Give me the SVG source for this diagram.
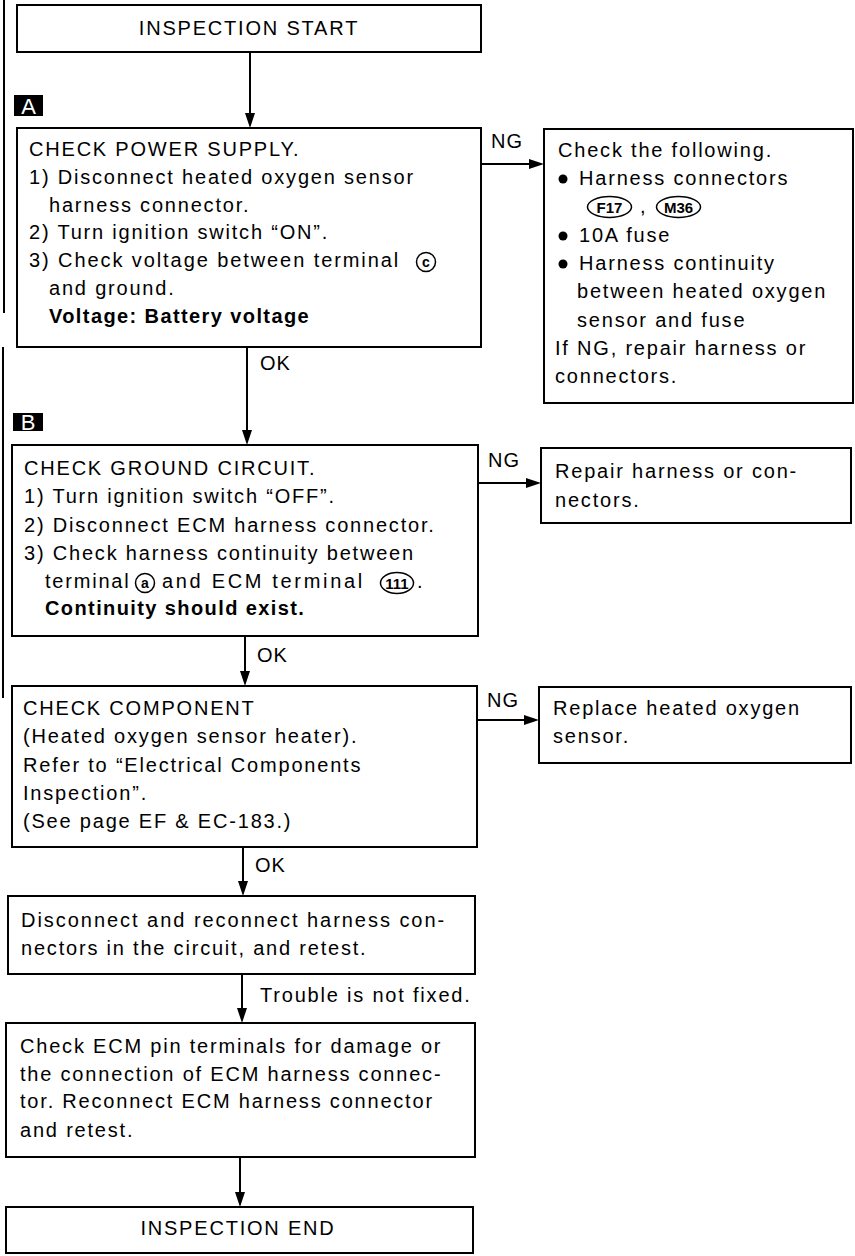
<svg xmlns="http://www.w3.org/2000/svg" width="855" height="1256" viewBox="0 0 855 1256">
<style>
.box{fill:#fff;stroke:#000;stroke-width:2}
.t{font-family:"Liberation Sans",Arial,sans-serif;font-size:20px;letter-spacing:1.8px;fill:#000}
.b{font-weight:bold;letter-spacing:1.4px}
.c{text-anchor:middle}
.lbl{font-family:"Liberation Sans",Arial,sans-serif;font-size:20px;letter-spacing:1px;fill:#000}
.edge{stroke:#000;stroke-width:2;fill:none}
.head{fill:#000}
.mk{fill:#000}
.mkt{font-family:"Liberation Sans",Arial,sans-serif;font-size:22px;fill:#fff;text-anchor:middle}
.circ{fill:none;stroke:#000;stroke-width:1.5}
.ct{font-family:"Liberation Sans",Arial,sans-serif;font-weight:bold;fill:#000;text-anchor:middle}
.ov{font-family:"Liberation Sans Narrow","Liberation Sans",Arial,sans-serif;font-weight:bold;font-size:15px;fill:#000;text-anchor:middle}
.dot{fill:#000}
</style>
<g id="page-border">
<line x1="4" y1="0" x2="4" y2="313" class="edge"/>
<line x1="3" y1="347" x2="3" y2="698" class="edge"/>
</g>
<g id="connectors">
<line x1="250" y1="52" x2="250" y2="114" class="edge"/><polygon class="head" points="245,113 255,113 250,128"/>
<line x1="481" y1="164" x2="530" y2="164" class="edge"/><polygon class="head" points="529,159 529,169 544,164"/>
<text x="491" y="148" class="lbl">NG</text>
<line x1="247" y1="347" x2="247" y2="431" class="edge"/><polygon class="head" points="242,430 252,430 247,445"/>
<text x="260" y="370" class="lbl">OK</text>
<line x1="478" y1="483" x2="527" y2="483" class="edge"/><polygon class="head" points="526,478 526,488 541,483"/>
<text x="488" y="467" class="lbl">NG</text>
<line x1="245" y1="636" x2="245" y2="672" class="edge"/><polygon class="head" points="240,671 250,671 245,686"/>
<text x="257" y="662" class="lbl">OK</text>
<line x1="477" y1="720" x2="525" y2="720" class="edge"/><polygon class="head" points="524,715 524,725 539,720"/>
<text x="487" y="707" class="lbl">NG</text>
<line x1="243" y1="847" x2="243" y2="882" class="edge"/><polygon class="head" points="238,881 248,881 243,896"/>
<text x="255" y="872" class="lbl">OK</text>
<line x1="242" y1="974" x2="242" y2="1009" class="edge"/><polygon class="head" points="237,1008 247,1008 242,1023"/>
<text x="260" y="1002" class="t">Trouble is not fixed.</text>
<line x1="240" y1="1157" x2="240" y2="1193" class="edge"/><polygon class="head" points="235,1192 245,1192 240,1207"/>
</g>
<g id="start">
<rect x="17" y="5" width="464" height="47" class="box"/>
<text x="249" y="35" class="t c">INSPECTION START</text>
</g>
<g id="marker-a">
<rect x="14" y="95" width="29" height="21" class="mk"/>
<text x="28.5" y="114" class="mkt">A</text>
</g>
<g id="check-power">
<rect x="17" y="128" width="464" height="219" class="box"/>
<text x="29" y="156" class="t">CHECK POWER SUPPLY.</text>
<text x="29" y="184" class="t">1) Disconnect heated oxygen sensor</text>
<text x="49" y="212" class="t">harness connector.</text>
<text x="29" y="239" class="t">2) Turn ignition switch “ON”.</text>
<text x="29" y="267" class="t" textLength="371">3) Check voltage between terminal</text>
<circle cx="426" cy="262" r="9.5" class="circ"/>
<text x="426" y="267" class="ct" font-size="14">c</text>
<text x="49" y="295" class="t">and ground.</text>
<text x="49" y="323" class="t b">Voltage: Battery voltage</text>
</g>
<g id="ng-power">
<rect x="544" y="129" width="309" height="274" class="box"/>
<text x="558" y="157" class="t">Check the following.</text>
<circle cx="563" cy="179" r="4.5" class="dot"/>
<text x="579" y="185" class="t">Harness connectors</text>
<ellipse cx="609.5" cy="207" rx="22" ry="10.5" class="circ"/>
<text x="609.5" y="213" class="ov">F17</text>
<text x="640" y="213" class="t">,</text>
<ellipse cx="678.5" cy="207" rx="22" ry="10.5" class="circ"/>
<text x="678.5" y="213" class="ov">M36</text>
<circle cx="563" cy="236" r="4.5" class="dot"/>
<text x="579" y="242" class="t">10A fuse</text>
<circle cx="563" cy="264" r="4.5" class="dot"/>
<text x="579" y="270" class="t">Harness continuity</text>
<text x="577" y="298" class="t">between heated oxygen</text>
<text x="577" y="327" class="t">sensor and fuse</text>
<text x="555" y="355" class="t">If NG, repair harness or</text>
<text x="555" y="383" class="t">connectors.</text>
</g>
<g id="marker-b">
<rect x="13" y="413" width="30" height="18" class="mk"/>
<text x="28" y="430" class="mkt">B</text>
</g>
<g id="check-ground">
<rect x="12" y="445" width="466" height="191" class="box"/>
<text x="24" y="475" class="t">CHECK GROUND CIRCUIT.</text>
<text x="24" y="503" class="t">1) Turn ignition switch “OFF”.</text>
<text x="24" y="532" class="t">2) Disconnect ECM harness connector.</text>
<text x="24" y="560" class="t">3) Check harness continuity between</text>
<text x="45" y="588" class="t">terminal</text>
<circle cx="145" cy="583" r="9.5" class="circ"/>
<text x="145" y="588" class="ct" font-size="14">a</text>
<text x="162" y="588" class="t" textLength="202">and ECM terminal</text>
<ellipse cx="397" cy="583" rx="16.5" ry="10.5" class="circ"/>
<text x="397" y="589" class="ov">111</text>
<text x="417" y="588" class="t">.</text>
<text x="45" y="615" class="t b">Continuity should exist.</text>
</g>
<g id="ng-ground">
<rect x="541" y="448" width="310" height="75" class="box"/>
<text x="555" y="478" class="t">Repair harness or con-</text>
<text x="555" y="507" class="t">nectors.</text>
</g>
<g id="check-component">
<rect x="12" y="686" width="465" height="161" class="box"/>
<text x="23" y="715" class="t">CHECK COMPONENT</text>
<text x="23" y="743" class="t">(Heated oxygen sensor heater).</text>
<text x="23" y="772" class="t">Refer to “Electrical Components</text>
<text x="23" y="800" class="t">Inspection”.</text>
<text x="23" y="828" class="t">(See page EF &amp; EC-183.)</text>
</g>
<g id="ng-component">
<rect x="539" y="687" width="312" height="76" class="box"/>
<text x="553" y="715" class="t">Replace heated oxygen</text>
<text x="553" y="743" class="t">sensor.</text>
</g>
<g id="reconnect">
<rect x="8" y="896" width="467" height="78" class="box"/>
<text x="21" y="927" class="t" textLength="425">Disconnect and reconnect harness con-</text>
<text x="21" y="955" class="t">nectors in the circuit, and retest.</text>
</g>
<g id="check-ecm">
<rect x="6" y="1023" width="469" height="134" class="box"/>
<text x="20" y="1053" class="t">Check ECM pin terminals for damage or</text>
<text x="20" y="1081" class="t">the connection of ECM harness connec-</text>
<text x="20" y="1108" class="t">tor. Reconnect ECM harness connector</text>
<text x="20" y="1137" class="t">and retest.</text>
</g>
<g id="end">
<rect x="6" y="1207" width="467" height="46" class="box"/>
<text x="238" y="1235" class="t c">INSPECTION END</text>
</g>
</svg>
